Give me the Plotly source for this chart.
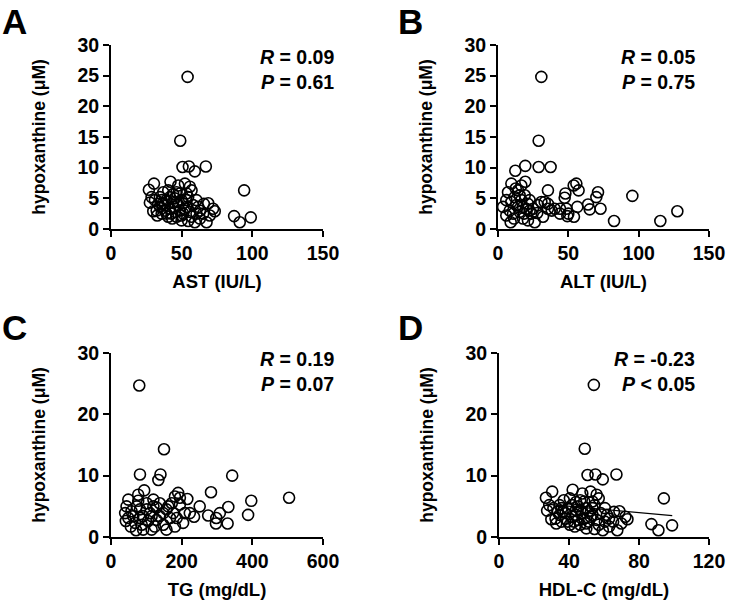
import plotly.graph_objects as go

# ---------------- data ----------------
ast_x = [54.2, 49.0, 50.6, 55.1, 59.3, 67.1, 94.2, 87.1, 91.1, 98.9, 26.8, 30.4, 42.1, 27.5, 29.9,
         32.7, 34.6, 36.3, 38.1, 40.5, 43.3, 46.4, 45.2, 48.7, 52.3, 55.8, 57.0, 54.6, 59.3, 67.6,
         68.8, 72.2, 73.4, 62.9, 60.5, 57.0, 53.4, 51.1, 44.0, 39.3, 37.0, 40.5, 46.4, 49.9, 53.4,
         33.4, 32.3, 35.8, 41.7, 47.6, 52.3, 58.1, 65.2, 69.9, 62.9, 49.9, 42.8, 38.1, 41.7, 44.0,
         48.7, 55.8, 54.6, 28.7, 31.1, 34.6, 39.3, 45.2, 51.1, 65.7, 60.5, 44.0, 47.6, 53.4, 35.8,
         46.4, 49.9, 61.7]
ast_y = [24.8, 14.4, 10.1, 10.2, 9.4, 10.2, 6.3, 2.1, 1.1, 1.9, 6.4, 7.4, 7.7, 4.3, 2.9,
         2.2, 5.2, 4.1, 3.0, 2.0, 1.7, 2.0, 5.0, 5.8, 7.4, 6.9, 6.3, 1.3, 1.1, 1.1,
         4.2, 3.3, 2.9, 3.0, 2.5, 2.0, 3.6, 2.5, 3.6, 4.7, 6.0, 6.3, 6.0, 4.7, 4.7,
         4.1, 3.0, 2.5, 3.3, 3.9, 3.3, 3.9, 2.5, 2.2, 1.7, 1.4, 2.5, 3.9, 5.2, 4.4,
         3.0, 2.8, 5.2, 5.2, 4.7, 3.6, 2.5, 2.8, 4.2, 4.1, 4.7, 5.7, 7.1, 5.8, 4.7,
         4.4, 2.2, 3.6]

alt_x = [30.8, 28.9, 28.9, 37.4, 19.4, 12.3, 35.5, 53.8, 55.7, 57.3, 47.9, 47.4, 71.1, 69.9, 95.5,
         64.0, 65.2, 72.9, 82.5, 115.4, 127.5, 56.4, 54.0, 49.3, 48.6, 44.1, 38.2, 33.2, 28.4, 32.0,
         26.1, 3.6, 5.9, 7.1, 9.5, 5.9, 9.0, 10.7, 11.8, 14.2, 16.6, 19.4, 13.0, 15.4, 17.8,
         21.3, 20.1, 22.5, 23.7, 16.6, 19.0, 21.3, 14.2, 17.8, 8.3, 11.4, 24.9, 27.9, 35.5, 40.3,
         30.8, 15.4, 12.6, 9.5, 18.5, 22.5, 35.5, 44.1, 50.0]
alt_y = [24.8, 14.4, 10.1, 10.1, 10.3, 9.5, 6.3, 7.1, 7.4, 6.3, 5.8, 5.1, 6.0, 5.2, 5.4,
         4.0, 3.2, 3.3, 1.3, 1.3, 2.9, 3.6, 2.0, 2.1, 3.3, 3.3, 3.0, 4.4, 3.9, 2.0,
         1.1, 3.6, 4.7, 6.0, 7.4, 2.2, 1.1, 2.5, 5.2, 6.3, 7.1, 7.7, 3.9, 2.8, 1.7,
         1.4, 3.3, 4.7, 2.5, 4.7, 5.5, 4.1, 3.6, 3.6, 3.0, 1.7, 3.3, 2.6, 3.3, 3.3,
         4.4, 5.5, 6.6, 4.4, 2.5, 3.0, 4.1, 2.5, 2.5]

tg_x = [80, 150, 82, 140, 134, 343, 283, 504, 397, 388, 332, 330, 308, 298, 297,
        275, 251, 235, 223, 216, 190, 195, 181, 94, 77, 49, 44, 40, 42, 56,
        71, 91, 115, 157, 181, 204, 209, 176, 162, 138, 120, 101, 82, 63, 73,
        91, 110, 129, 148, 167, 148, 129, 105, 68, 58, 77, 195, 186, 172, 120,
        101, 138, 157, 115, 87, 124, 49, 82]
tg_y = [24.7, 14.3, 10.2, 10.2, 9.3, 10.0, 7.3, 6.4, 5.9, 3.6, 4.9, 2.2, 3.9, 3.1, 2.2,
        3.5, 5.0, 3.3, 3.9, 6.2, 7.2, 6.4, 6.6, 7.6, 6.9, 6.1, 5.0, 3.9, 2.6, 1.7,
        1.1, 1.2, 1.2, 1.2, 1.7, 2.3, 3.9, 3.9, 5.0, 5.5, 6.1, 5.5, 4.5, 3.4, 5.0,
        3.4, 3.9, 2.8, 3.9, 3.1, 2.0, 4.8, 2.6, 2.3, 4.2, 5.9, 5.3, 3.1, 5.5, 5.0,
        4.5, 3.4, 4.5, 3.4, 2.0, 1.7, 3.1, 3.1]

hdl_x = list(ast_x)
hdl_y = list(ast_y)
hdl_fit_x = [27, 99]
hdl_fit_y = [5.35, 3.47]

panels = ["A", "B", "C", "D"]
x_titles = ["AST (IU/L)", "ALT (IU/L)", "TG (mg/dL)", "HDL-C (mg/dL)"]
y_title = "hypoxanthine (μM)"
x_ranges = [[0, 150], [0, 150], [0, 600], [0, 120]]
x_dticks = [50, 50, 200, 40]
y_dticks = [5, 5, 10, 10]
r_texts = ["<i>R</i> = 0.09", "<i>R</i> = 0.05", "<i>R</i> = 0.19", "<i>R</i> = -0.23"]
p_texts = ["<i>P</i> = 0.61", "<i>P</i> = 0.75", "<i>P</i> = 0.07", "<i>P</i> < 0.05"]

# ---------------- layout geometry ----------------
W, H = 749, 606
FONT = "Liberation Sans, Arial, sans-serif"
x_dom_px = [(111, 323), (498, 709), (111, 323), (499, 709)]
y_dom_px = [(45, 229), (45, 229), (353, 537), (353, 537)]

fig = go.Figure()

datasets = [(ast_x, ast_y), (alt_x, alt_y), (tg_x, tg_y), (hdl_x, hdl_y)]
for i, (xs, ys) in enumerate(datasets):
    ax = "" if i == 0 else str(i + 1)
    if i == 3:
        fig.add_trace(go.Scatter(x=hdl_fit_x, y=hdl_fit_y, mode="lines",
                                 line=dict(color="black", width=1.2),
                                 xaxis="x" + ax, yaxis="y" + ax, showlegend=False))
    fig.add_trace(go.Scatter(x=xs, y=ys, mode="markers",
                             marker=dict(symbol="circle-open", size=11, color="black",
                                         line=dict(width=1.6, color="black")),
                             cliponaxis=False,
                             xaxis="x" + ax, yaxis="y" + ax, showlegend=False))

tickfont = dict(family=FONT, size=19.5, color="black", weight="bold")
xtitlefont = dict(family=FONT, size=18.5, color="black", weight="bold")
ytitlefont = dict(family=FONT, size=17.5, color="black", weight="bold")
common = dict(showline=True, linecolor="black", linewidth=2, ticks="outside",
              ticklen=6, tickwidth=2, tickcolor="black", showgrid=False,
              zeroline=False, tickfont=tickfont, automargin=False)

layout = dict(width=W, height=H, margin=dict(l=0, r=0, t=0, b=0),
              plot_bgcolor="white", paper_bgcolor="white", showlegend=False,
              font=dict(family=FONT, color="black"))
annotations = []
for i in range(4):
    sfx = "" if i == 0 else str(i + 1)
    x0, x1 = x_dom_px[i]
    y0, y1 = y_dom_px[i]
    layout["xaxis" + sfx] = dict(common, domain=[x0 / W, x1 / W], range=x_ranges[i],
                                 dtick=x_dticks[i], tick0=0,
                                 anchor="y" + sfx,
                                 title=dict(text=x_titles[i], font=xtitlefont, standoff=12))
    layout["yaxis" + sfx] = dict(common, domain=[1 - y1 / H, 1 - y0 / H], range=[0, 30],
                                 dtick=y_dticks[i], tick0=0,
                                 anchor="x" + sfx,
                                 title=dict(text=y_title, font=ytitlefont, standoff=27))
    # panel letter
    annotations.append(dict(text="<b>%s</b>" % panels[i], xref="paper", yref="paper",
                            x=(0 if i % 2 == 0 else 396) / W,
                            y=1 - (0 if i < 2 else 306) / H,
                            xanchor="left", yanchor="top", showarrow=False,
                            font=dict(family=FONT, size=35, color="black")))
    rx = 336 if i % 2 == 0 else 697
    ry = 57 if i < 2 else 359
    annotations.append(dict(text="<b>%s</b>" % r_texts[i], xref="paper", yref="paper",
                            x=rx / W, y=1 - ry / H, xanchor="right", yanchor="middle",
                            showarrow=False, font=dict(family=FONT, size=19.5, color="black")))
    annotations.append(dict(text="<b>%s</b>" % p_texts[i], xref="paper", yref="paper",
                            x=rx / W, y=1 - (ry + 25) / H, xanchor="right", yanchor="middle",
                            showarrow=False, font=dict(family=FONT, size=19.5, color="black")))
layout["annotations"] = annotations
fig.update_layout(**layout)
fig.write_html("out.html", config={"displayModeBar": False},
               post_script="document.body.style.margin='0';document.body.style.overflow='hidden';")
